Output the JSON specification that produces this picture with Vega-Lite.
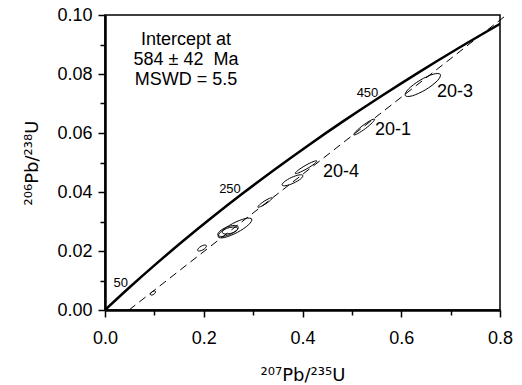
{
  "$schema": "https://vega.github.io/schema/vega-lite/v6.json",
  "width": 395,
  "height": 295,
  "autosize": "none",
  "padding": {"left": 105, "top": 15, "right": 22, "bottom": 75},
  "background": "white",
  "config": {
    "font": "Liberation Sans",
    "view": {"stroke": "black", "strokeWidth": 1.5},
    "axis": {
      "grid": false,
      "domainColor": "black",
      "domainWidth": 2.5,
      "tickColor": "black",
      "tickWidth": 1.5,
      "labelColor": "black",
      "labelFont": "Liberation Sans",
      "labelFontSize": 18,
      "labelFlush": false,
      "labelOverlap": false,
      "titleFont": "DejaVu Sans",
      "titleFontSize": 18,
      "titleFontWeight": "normal",
      "titleColor": "black"
    }
  },
  "encoding": {
    "x": {
      "field": "x",
      "type": "quantitative",
      "scale": {"domain": [0, 0.8], "nice": false, "zero": false},
      "axis": {
        "title": "²⁰⁷Pb/²³⁵U",
        "values": [0, 0.1, 0.2, 0.3, 0.4, 0.5, 0.6, 0.7, 0.8],
        "labelExpr": "round(datum.value*10) % 2 === 0 ? format(datum.value, '.1f') : ''",
        "tickSize": {"condition": {"test": "round(datum.value*10) % 2 === 0", "value": 7}, "value": 5},
        "labelPadding": 12,
        "titlePadding": 19
      }
    },
    "y": {
      "field": "y",
      "type": "quantitative",
      "scale": {"domain": [0, 0.1], "nice": false, "zero": false},
      "axis": {
        "title": "²⁰⁶Pb/²³⁸U",
        "values": [0, 0.01, 0.02, 0.03, 0.04, 0.05, 0.06, 0.07, 0.08, 0.09, 0.1],
        "labelExpr": "round(datum.value*100) % 2 === 0 ? format(datum.value, '.2f') : ''",
        "tickSize": {"condition": {"test": "round(datum.value*100) % 2 === 0", "value": 7}, "value": 5},
        "labelPadding": 6,
        "titlePadding": 15
      }
    }
  },
  "layer": [
    {
      "data": {"values": [{"x": 0.0486, "y": 0}, {"x": 0.8101, "y": 0.0996}]},
      "mark": {"type": "line", "color": "black", "strokeWidth": 1, "strokeDash": [8, 5], "clip": false},
      "encoding": {}
    },
    {
      "data": {"values": [
        {"age": 0, "x": 0, "y": 0},
        {"age": 50, "x": 0.050475, "y": 0.007786},
        {"age": 100, "x": 0.1035, "y": 0.015633},
        {"age": 150, "x": 0.1592, "y": 0.023542},
        {"age": 200, "x": 0.21771, "y": 0.031511},
        {"age": 250, "x": 0.27917, "y": 0.039543},
        {"age": 300, "x": 0.34374, "y": 0.047637},
        {"age": 350, "x": 0.41156, "y": 0.055795},
        {"age": 400, "x": 0.48281, "y": 0.064016},
        {"age": 450, "x": 0.55766, "y": 0.072301},
        {"age": 500, "x": 0.63628, "y": 0.08065},
        {"age": 550, "x": 0.71887, "y": 0.089064},
        {"age": 600, "x": 0.80563, "y": 0.097544}
      ]},
      "mark": {"type": "line", "color": "black", "strokeWidth": 2.5, "interpolate": "monotone", "clip": true},
      "encoding": {"order": {"field": "age", "type": "quantitative"}}
    },
    {
      "data": {"values": [
        {"id": "e1", "k": 0, "x": 0.10218, "y": 0.00634}, {"id": "e1", "k": 1, "x": 0.09949, "y": 0.00647}, {"id": "e1", "k": 2, "x": 0.09546, "y": 0.00618}, {"id": "e1", "k": 3, "x": 0.09245, "y": 0.00565}, {"id": "e1", "k": 4, "x": 0.09222, "y": 0.00518}, {"id": "e1", "k": 5, "x": 0.09491, "y": 0.00505}, {"id": "e1", "k": 6, "x": 0.09894, "y": 0.00534}, {"id": "e1", "k": 7, "x": 0.10195, "y": 0.00587},
        {"id": "e2", "k": 0, "x": 0.20527, "y": 0.02185}, {"id": "e2", "k": 1, "x": 0.20127, "y": 0.02201}, {"id": "e2", "k": 2, "x": 0.19447, "y": 0.02159}, {"id": "e2", "k": 3, "x": 0.18886, "y": 0.02082}, {"id": "e2", "k": 4, "x": 0.18773, "y": 0.02015}, {"id": "e2", "k": 5, "x": 0.19173, "y": 0.01999}, {"id": "e2", "k": 6, "x": 0.19853, "y": 0.02041}, {"id": "e2", "k": 7, "x": 0.20414, "y": 0.02118},
        {"id": "e3", "k": 0, "x": 0.29728, "y": 0.03082}, {"id": "e3", "k": 1, "x": 0.28396, "y": 0.031}, {"id": "e3", "k": 2, "x": 0.25855, "y": 0.0293}, {"id": "e3", "k": 3, "x": 0.23591, "y": 0.02672}, {"id": "e3", "k": 4, "x": 0.22932, "y": 0.02478}, {"id": "e3", "k": 5, "x": 0.24264, "y": 0.0246}, {"id": "e3", "k": 6, "x": 0.26805, "y": 0.0263}, {"id": "e3", "k": 7, "x": 0.29069, "y": 0.02888},
        {"id": "e4", "k": 0, "x": 0.26976, "y": 0.0282}, {"id": "e4", "k": 1, "x": 0.26156, "y": 0.02868}, {"id": "e4", "k": 2, "x": 0.24607, "y": 0.02806}, {"id": "e4", "k": 3, "x": 0.23235, "y": 0.0267}, {"id": "e4", "k": 4, "x": 0.22844, "y": 0.0254}, {"id": "e4", "k": 5, "x": 0.23664, "y": 0.02492}, {"id": "e4", "k": 6, "x": 0.25213, "y": 0.02554}, {"id": "e4", "k": 7, "x": 0.26585, "y": 0.0269},
        {"id": "e5", "k": 0, "x": 0.26885, "y": 0.02765}, {"id": "e5", "k": 1, "x": 0.26316, "y": 0.02814}, {"id": "e5", "k": 2, "x": 0.25163, "y": 0.02793}, {"id": "e5", "k": 3, "x": 0.24102, "y": 0.02715}, {"id": "e5", "k": 4, "x": 0.23755, "y": 0.02625}, {"id": "e5", "k": 5, "x": 0.24325, "y": 0.02576}, {"id": "e5", "k": 6, "x": 0.25477, "y": 0.02597}, {"id": "e5", "k": 7, "x": 0.26538, "y": 0.02675},
        {"id": "e6", "k": 0, "x": 0.33849, "y": 0.03801}, {"id": "e6", "k": 1, "x": 0.33309, "y": 0.03785}, {"id": "e6", "k": 2, "x": 0.3224, "y": 0.03687}, {"id": "e6", "k": 3, "x": 0.31267, "y": 0.03563}, {"id": "e6", "k": 4, "x": 0.30961, "y": 0.03487}, {"id": "e6", "k": 5, "x": 0.31501, "y": 0.03503}, {"id": "e6", "k": 6, "x": 0.32571, "y": 0.03601}, {"id": "e6", "k": 7, "x": 0.33543, "y": 0.03725},
        {"id": "e7", "k": 0, "x": 0.40086, "y": 0.04561}, {"id": "e7", "k": 1, "x": 0.39286, "y": 0.04578}, {"id": "e7", "k": 2, "x": 0.37718, "y": 0.04489}, {"id": "e7", "k": 3, "x": 0.36301, "y": 0.04345}, {"id": "e7", "k": 4, "x": 0.35864, "y": 0.04232}, {"id": "e7", "k": 5, "x": 0.36664, "y": 0.04215}, {"id": "e7", "k": 6, "x": 0.38232, "y": 0.04304}, {"id": "e7", "k": 7, "x": 0.39649, "y": 0.04448},
        {"id": "e8", "k": 0, "x": 0.42901, "y": 0.05053}, {"id": "e8", "k": 1, "x": 0.4213, "y": 0.05028}, {"id": "e8", "k": 2, "x": 0.40527, "y": 0.04894}, {"id": "e8", "k": 3, "x": 0.3903, "y": 0.04728}, {"id": "e8", "k": 4, "x": 0.38517, "y": 0.04629}, {"id": "e8", "k": 5, "x": 0.39288, "y": 0.04654}, {"id": "e8", "k": 6, "x": 0.40891, "y": 0.04788}, {"id": "e8", "k": 7, "x": 0.42388, "y": 0.04953},
        {"id": "e9", "k": 0, "x": 0.54599, "y": 0.06469}, {"id": "e9", "k": 1, "x": 0.5381, "y": 0.06429}, {"id": "e9", "k": 2, "x": 0.52252, "y": 0.06258}, {"id": "e9", "k": 3, "x": 0.50837, "y": 0.06054}, {"id": "e9", "k": 4, "x": 0.50393, "y": 0.05938}, {"id": "e9", "k": 5, "x": 0.51182, "y": 0.05978}, {"id": "e9", "k": 6, "x": 0.5274, "y": 0.06149}, {"id": "e9", "k": 7, "x": 0.54155, "y": 0.06353},
        {"id": "e10", "k": 0, "x": 0.67924, "y": 0.07985}, {"id": "e10", "k": 1, "x": 0.66476, "y": 0.07993}, {"id": "e10", "k": 2, "x": 0.63791, "y": 0.07787}, {"id": "e10", "k": 3, "x": 0.61443, "y": 0.07487}, {"id": "e10", "k": 4, "x": 0.60806, "y": 0.07269}, {"id": "e10", "k": 5, "x": 0.62254, "y": 0.07261}, {"id": "e10", "k": 6, "x": 0.64939, "y": 0.07467}, {"id": "e10", "k": 7, "x": 0.67287, "y": 0.07767}
      ]},
      "mark": {"type": "line", "color": "black", "strokeWidth": 1, "interpolate": "cardinal-closed"},
      "encoding": {
        "detail": {"field": "id", "type": "nominal"},
        "order": {"field": "k", "type": "quantitative"}
      }
    },
    {
      "data": {"values": [
        {"t": "50", "x": 0.050475, "y": 0.007786},
        {"t": "250", "x": 0.27917, "y": 0.039543},
        {"t": "450", "x": 0.55766, "y": 0.072301}
      ]},
      "mark": {"type": "text", "align": "right", "baseline": "alphabetic", "dx": -2, "fontSize": 13, "color": "black"},
      "encoding": {"text": {"field": "t"}}
    },
    {
      "data": {"values": [
        {"t": "20-3", "x": 0.6724, "y": 0.0739},
        {"t": "20-1", "x": 0.5468, "y": 0.061},
        {"t": "20-4", "x": 0.4415, "y": 0.0468}
      ]},
      "mark": {"type": "text", "align": "left", "baseline": "middle", "fontSize": 18, "color": "black"},
      "encoding": {"text": {"field": "t"}}
    },
    {
      "data": {"values": [
        {"t": "Intercept at\n584 ± 42\u00a0 Ma\nMSWD = 5.5", "x": 0.164, "y": 0.0945}
      ]},
      "mark": {"type": "text", "align": "center", "baseline": "top", "lineBreak": "\n", "lineHeight": 20, "fontSize": 18, "color": "black"},
      "encoding": {"text": {"field": "t"}}
    }
  ]
}
